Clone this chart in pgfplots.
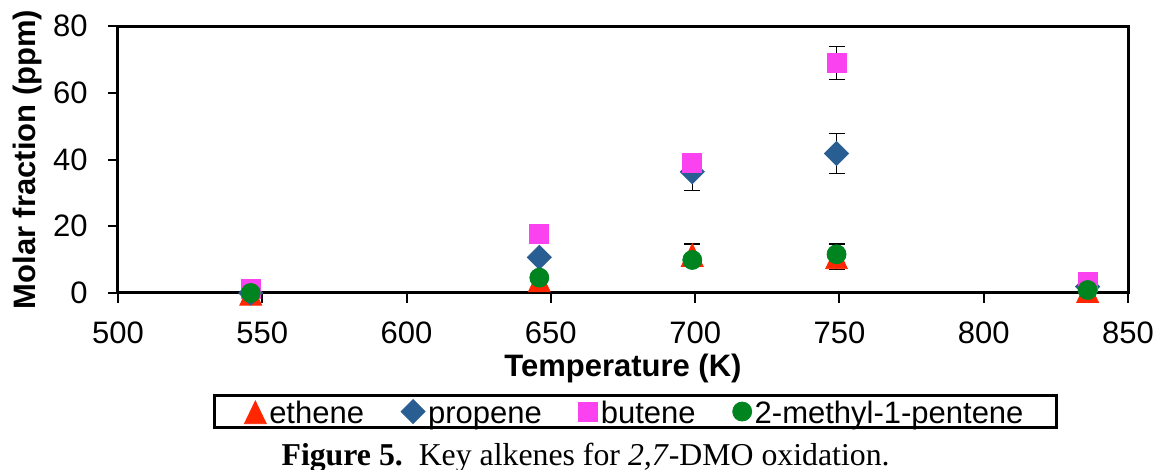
\documentclass[border=0pt]{standalone}
\usepackage{fontspec}
\setmainfont{Liberation Sans}
\newfontfamily\capfont{Liberation Serif}
\usepackage{pgfplots}
\pgfplotsset{compat=1.18}

\definecolor{cEth}{RGB}{255,38,0}
\definecolor{cPro}{RGB}{40,94,146}
\definecolor{cBut}{RGB}{250,66,240}
\definecolor{cMP}{RGB}{0,132,32}

\newcommand{\chartfont}{\fontsize{15.5}{18}\selectfont}

\begin{document}
\begin{tikzpicture}
\useasboundingbox (-59pt,-88.5pt) rectangle (519pt,146.5pt);
\begin{axis}[
  at={(0,0)}, anchor=south west,
  scale only axis, width=505pt, height=133.5pt,
  xmin=500, xmax=850, ymin=0, ymax=80,
  xtick={500,550,...,850}, ytick={0,20,...,80},
  axis line style={line width=1.5pt},
  tick style={line width=1pt, black},
  major tick length=5pt, tick align=outside,
  xtick pos=bottom, ytick pos=left,
  clip=false,
  /pgf/number format/assume math mode=true,
  /pgf/number format/1000 sep={},
  ticklabel style={font=\chartfont},
  xticklabel style={anchor=base, inner sep=0pt, yshift=-20.5pt},
  yticklabel style={anchor=east, inner sep=0pt, xshift=-10pt},
  xlabel={Temperature (K)},
  xlabel style={font=\bfseries\chartfont, at={(axis description cs:0.5,0)}, anchor=center, yshift=-37.5pt},
  ylabel={Molar fraction (ppm)},
  ylabel style={font=\bfseries\chartfont, at={(axis description cs:0,0.5)}, anchor=center, yshift=45.5pt},
  legend columns=4,
  legend style={at={(axis description cs:0.094,-0.444)}, anchor=west,
    draw=black, line width=1.5pt, font=\chartfont,
    inner xsep=15pt, inner ysep=0pt, column sep=0pt,
    /tikz/every even column/.append style={column sep=17pt},
    nodes={inner xsep=1.5pt, inner ysep=0.5pt, text height=13.5pt, text depth=1.5pt}},
  legend image code/.code={\draw[#1] plot coordinates {(0pt,0pt)};},
]

% error bars, drawn beneath the markers
\addplot[forget plot, only marks, mark=none,
  error bars/.cd, y dir=both, y explicit,
  error bar style={black, line width=0.6pt},
  error mark options={rotate=90, mark size=4pt, line width=0.7pt, black}]
  coordinates {
    (699,11.6) +- (0,3.1)
    (749,10.9) +- (0,3.8)
    (699,36.3) +- (0,5.5)
    (749,41.8) +- (0,6.0)
    (749,68.9) +- (0,5.0)
    (749,11.6) +- (0,3.0)
  };

\addplot[only marks, color=cEth, mark=triangle*, line width=0.4pt,
  mark size=6.3pt, mark options={yscale=1.2, yshift=-1.9pt, fill=cEth, draw=cEth}]
  coordinates {(546,0) (646,4.0) (699,11.6) (749,10.9) (836,0.8)};
\addlegendentry{ethene}

\addplot[only marks, color=cPro, mark=square*, line width=0.4pt,
  mark size=4.25pt, mark options={rotate=45, fill=cPro, draw=cPro}]
  coordinates {(546,0) (646,10.7) (699,36.3) (749,41.8) (836,1.9)};
\addlegendentry{propene}

\addplot[only marks, color=cBut, mark=square*, line width=0.4pt,
  mark size=4.75pt, mark options={fill=cBut, draw=cBut}]
  coordinates {(546,1.3) (646,17.6) (699,39.0) (749,68.9) (836,3.4)};
\addlegendentry{butene}

\addplot[only marks, color=cMP, mark=*, line width=0.4pt,
  mark size=4.75pt, mark options={fill=cMP, draw=cMP}]
  coordinates {(546,0) (646,4.6) (699,9.9) (749,11.6) (836,0.9)};
\addlegendentry{2-methyl-1-pentene}

\node[font=\capfont\fontsize{15.9}{18}\selectfont, anchor=center]
  at (axis description cs:0.463,-0.618)
  {\textbf{Figure 5.}\ \ Key alkenes for \textit{2,7}-DMO oxidation.};
\end{axis}
\end{tikzpicture}
\end{document}
